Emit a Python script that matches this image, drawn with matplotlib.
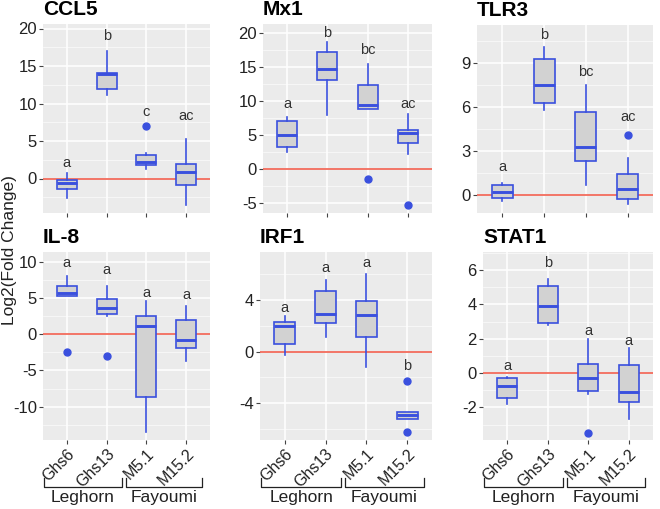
import numpy as np
import matplotlib.pyplot as plt
from matplotlib import transforms

plt.rcParams['font.family'] = ['Liberation Sans', 'DejaVu Sans']

groups = ['Ghs6', 'Ghs13', 'M5.1', 'M15.2']
breeds = ['Leghorn', 'Fayoumi']

# box stats per group: whisker low, Q1, median, Q3, whisker high
ccl5_box = [[-2.65, -1.4, -0.65, -0.2, 0.75],
            [11.2, 11.9, 13.9, 14.1, 17.0],
            [1.3, 1.8, 2.2, 3.1, 3.4],
            [-3.5, -0.8, 0.9, 2.0, 5.3]]
ccl5_out = [[], [], [7.0], []]
ccl5_letters = ['a', 'b', 'c', 'ac']
ccl5_letter_y = [2.1, 19.0, 8.8, 8.4]

mx1_box = [[2.5, 3.2, 5.0, 7.1, 7.7],
           [8.0, 13.2, 14.7, 17.2, 18.7],
           [8.8, 8.8, 9.5, 12.4, 15.5],
           [2.2, 3.8, 5.3, 5.8, 8.1]]
mx1_out = [[], [], [-1.5], [-5.3]]
mx1_letters = ['a', 'b', 'bc', 'ac']
mx1_letter_y = [9.6, 20.0, 17.6, 9.6]

tlr3_box = [[-0.4, -0.23, 0.23, 0.7, 0.8],
            [5.8, 6.3, 7.5, 9.3, 10.1],
            [0.7, 2.3, 3.25, 5.65, 7.5],
            [-0.6, -0.25, 0.4, 1.4, 2.55]]
tlr3_out = [[], [], [], [4.1]]
tlr3_letters = ['a', 'b', 'bc', 'ac']
tlr3_letter_y = [1.9, 10.9, 8.4, 5.35]

il8_box = [[5.3, 5.3, 5.7, 6.6, 8.0],
           [2.5, 2.75, 3.6, 4.8, 6.7],
           [-13.5, -8.7, 1.15, 2.5, 4.6],
           [-3.7, -1.85, -0.8, 1.9, 3.9]]
il8_out = [[-2.4], [-3.0], [], []]
il8_letters = ['a', 'a', 'a', 'a']
il8_letter_y = [9.8, 8.9, 5.7, 5.4]

irf1_box = [[-0.26, 0.57, 2.0, 2.27, 2.75],
            [1.15, 2.2, 2.9, 4.7, 5.55],
            [-1.2, 1.1, 2.8, 3.9, 6.05],
            [-5.2, -5.2, -4.9, -4.7, -4.7]]
irf1_out = [[], [], [], [-2.25, -6.25]]
irf1_letters = ['a', 'a', 'a', 'b']
irf1_letter_y = [3.35, 6.45, 6.9, -1.1]

stat1_box = [[-1.83, -1.46, -0.76, -0.3, -0.23],
             [2.78, 2.9, 3.9, 5.07, 5.5],
             [-1.2, -1.07, -0.3, 0.54, 1.96],
             [-2.7, -1.7, -1.1, 0.45, 1.48]]
stat1_out = [[], [], [-3.48], []]
stat1_letters = ['a', 'b', 'a', 'a']
stat1_letter_y = [0.4, 6.4, 2.45, 1.9]

W, H = 660, 509
BLUE = '#3A50DE'
BG = '#EBEBEB'


def make_axes(fig, left, top, right, bottom):
    return fig.add_axes([left / W, 1 - bottom / H, (right - left) / W, (bottom - top) / H])


def draw_panel(ax, title, box, out, letters, letter_y, ylim, yticks, show_x):
    stats = []
    for b, o in zip(box, out):
        stats.append({'whislo': b[0], 'q1': b[1], 'med': b[2], 'q3': b[3],
                      'whishi': b[4], 'fliers': o})
    x = np.arange(1, len(groups) + 1)
    ax.set_facecolor(BG)
    ax.axhline(0, color='#F26B5B', lw=1.3, zorder=1.5)
    ax.bxp(stats, positions=x, widths=0.5, patch_artist=True, showcaps=False,
           manage_ticks=False,
           boxprops=dict(facecolor='#D2D2D2', edgecolor=BLUE, lw=1.2),
           whiskerprops=dict(color=BLUE, lw=1.2),
           medianprops=dict(color=BLUE, lw=2.1),
           flierprops=dict(marker='o', mfc=BLUE, mec=BLUE, ms=5),
           zorder=3)
    # grid
    step = yticks[1] - yticks[0]
    minor = np.arange(yticks[0] - step / 2, yticks[-1] + step, step)
    ax.set_yticks(yticks)
    ax.set_yticks(minor, minor=True)
    ax.set_xticks(x)
    ax.grid(True, which='major', color='white', lw=1.1)
    ax.grid(True, which='minor', axis='y', color='white', lw=0.5, alpha=0.8)
    ax.set_axisbelow(True)
    for xi, s, yv in zip(x, letters, letter_y):
        ax.text(xi, yv, s, ha='center', va='center', fontsize=10.5, color='#333333')
    ax.set_xlim(0.4, 4.6)
    ax.set_ylim(*ylim)
    for sp in ax.spines.values():
        sp.set_visible(False)
    ax.tick_params(which='minor', length=0)
    ax.tick_params(which='major', length=3, color='#444444', labelsize=12,
                   labelcolor='#222222', pad=1.5)
    ax.set_yticklabels([str(t) for t in yticks])
    if show_x:
        ax.set_xticklabels(groups, rotation=45, ha='right', rotation_mode='anchor',
                           fontsize=11.5)
        tr = transforms.blended_transform_factory(ax.transData, ax.transAxes)
        for (x0, x1), name in zip([(0.43, 2.38), (2.48, 4.4)], breeds):
            ax.plot([x0, x0, x1, x1], [-0.2, -0.25, -0.25, -0.2], color='#222222',
                    lw=0.9, transform=tr, clip_on=False)
            ax.text((x0 + x1) / 2, -0.305, name, transform=tr, ha='center',
                    va='center', fontsize=12.5, color='#222222')
    else:
        ax.set_xticklabels([])
    ax.text(0.0, 1.025, title, transform=ax.transAxes, ha='left', va='bottom',
            fontsize=15, fontweight='bold')


fig = plt.figure(figsize=(W / 100, H / 100), dpi=100)

ax1 = make_axes(fig, 43, 24, 210, 213)
draw_panel(ax1, 'CCL5', ccl5_box, ccl5_out, ccl5_letters, ccl5_letter_y,
           (-4.6, 20.6), [0, 5, 10, 15, 20], False)
ax2 = make_axes(fig, 263, 24, 432, 213)
draw_panel(ax2, 'Mx1', mx1_box, mx1_out, mx1_letters, mx1_letter_y,
           (-6.5, 21.4), [-5, 0, 5, 10, 15, 20], False)
ax3 = make_axes(fig, 477, 25, 653, 213)
draw_panel(ax3, 'TLR3', tlr3_box, tlr3_out, tlr3_letters, tlr3_letter_y,
           (-1.23, 11.6), [0, 3, 6, 9], False)
ax4 = make_axes(fig, 43, 252, 210, 440)
draw_panel(ax4, 'IL-8', il8_box, il8_out, il8_letters, il8_letter_y,
           (-14.6, 11.34), [-10, -5, 0, 5, 10], True)
ax5 = make_axes(fig, 260, 252, 432, 440)
draw_panel(ax5, 'IRF1', irf1_box, irf1_out, irf1_letters, irf1_letter_y,
           (-6.85, 7.72), [-4, 0, 4], True)
ax6 = make_axes(fig, 483, 252, 653, 440)
draw_panel(ax6, 'STAT1', stat1_box, stat1_out, stat1_letters, stat1_letter_y,
           (-3.9, 7.06), [-2, 0, 2, 4, 6], True)

fig.text(9.5 / W, 0.509, 'Log2(Fold Change)', rotation=90, ha='center', va='center',
         fontsize=12.5, color='#222222')

fig.savefig('out.png', dpi=100)
